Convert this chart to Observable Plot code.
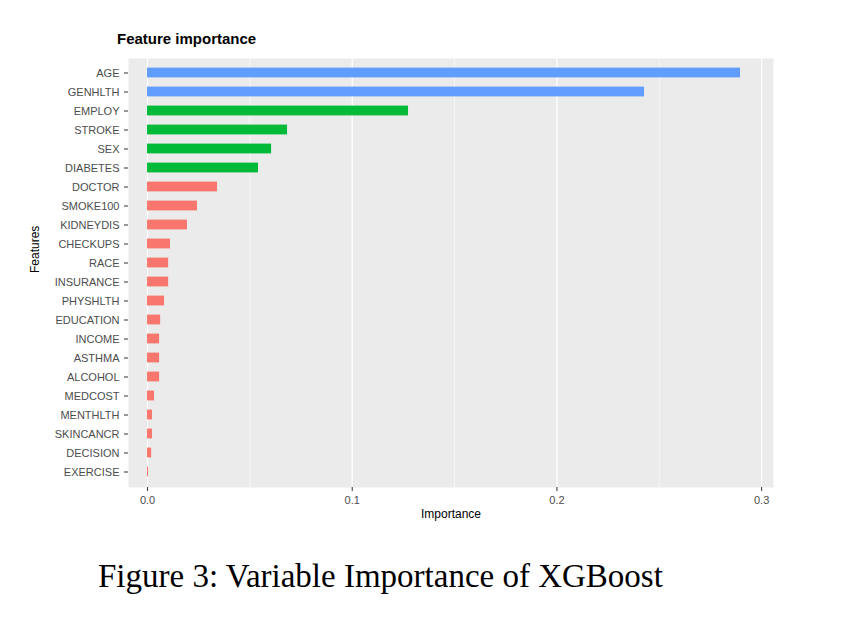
<!DOCTYPE html>
<html><head><meta charset="utf-8">
<script src="https://cdn.jsdelivr.net/npm/d3@7"></script>
<script src="https://cdn.jsdelivr.net/npm/@observablehq/plot@0.6"></script>
<style>
body{margin:0;background:#fff;}
#wrap{position:relative;width:859px;height:617px;}
#title{position:absolute;left:117px;top:30px;font:bold 15px "Liberation Sans",Arial,sans-serif;color:#000;}
#caption{position:absolute;left:98px;top:558px;font:33px "Liberation Serif","Times New Roman",serif;color:#000;}
</style></head>
<body><div id="wrap"><div id="chart"></div><div id="title">Feature importance</div><div id="caption">Figure 3: Variable Importance of XGBoost</div></div>
<script>
const features = ["AGE","GENHLTH","EMPLOY","STROKE","SEX","DIABETES","DOCTOR","SMOKE100","KIDNEYDIS","CHECKUPS","RACE","INSURANCE","PHYSHLTH","EDUCATION","INCOME","ASTHMA","ALCOHOL","MEDCOST","MENTHLTH","SKINCANCR","DECISION","EXERCISE"]
const importance = [0.2897,0.2428,0.1275,0.0684,0.0606,0.0542,0.0342,0.0244,0.0195,0.0112,0.0103,0.0103,0.0083,0.0064,0.0059,0.0059,0.0059,0.0034,0.0024,0.0024,0.002,0.0005]
const cluster = ["1","1","2","2","2","2","3","3","3","3","3","3","3","3","3","3","3","3","3","3","3","3"]
const majorTicks = [0, 0.1, 0.2, 0.3]
const minorTicks = [0.05, 0.15, 0.25]

const data = features.map((f, i) => ({feature: f, importance: importance[i], cluster: cluster[i]}))

let chart = Plot.plot({
  width: 859, height: 617,
  marginTop: 58, marginBottom: 130, marginLeft: 128, marginRight: 86,
  style: {fontFamily: "Liberation Sans, Arial, sans-serif", fontSize: "11px", color: "#4D4D4D"},
  x: {domain: [-0.0093, 0.3058], label: null},
  y: {domain: features, range: [57, 487], paddingInner: 0, paddingOuter: 0, label: null},
  color: {domain: ["1","2","3"], range: ["#619CFF","#00BA38","#F8766D"]},
  marks: [
    Plot.frame({fill: "#EBEBEB", stroke: null}),
    Plot.ruleX(minorTicks, {stroke: "white", strokeWidth: 0.6}),
    Plot.ruleX(majorTicks, {stroke: "white", strokeWidth: 1.2}),
    Plot.barX(data, {x: "importance", y: "feature", fill: "cluster", insetTop: 4.6, insetBottom: 4.6}),
    Plot.axisX({ticks: majorTicks, tickFormat: d => d === 0 ? "0.0" : String(d), tickSize: 4, stroke: "#333", fill: "#4D4D4D", label: null}),
    Plot.axisY({tickSize: 4, stroke: "#333", fill: "#4D4D4D", label: null}),
    Plot.text(["Importance"], {frameAnchor: "bottom", dy: 30, fill: "black", fontSize: 12}),
    Plot.text(["Features"], {frameAnchor: "left", dx: -93, rotate: -90, fill: "black", fontSize: 12})
  ]
})
d3.select('#chart').append(() => chart)
</script></body></html>
